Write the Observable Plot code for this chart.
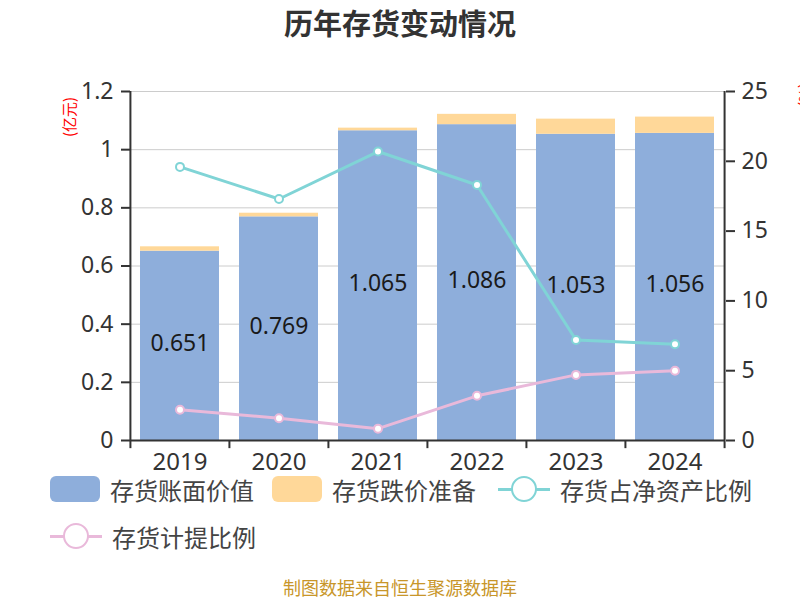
<!DOCTYPE html>
<html><head><meta charset="utf-8">
<script src="https://cdn.jsdelivr.net/npm/d3@7"></script>
<script src="https://cdn.jsdelivr.net/npm/@observablehq/plot@0.6"></script>
<style>
html,body{margin:0;padding:0;background:#fff;}
#wrap{position:relative;width:800px;height:600px;overflow:hidden;font-family:"Noto Sans CJK SC","Noto Sans",sans-serif;}
#title{position:absolute;left:0;top:0;width:800px;height:44px;line-height:44px;text-align:center;font-size:29px;font-weight:bold;color:#333;}
#chart{position:absolute;left:0;top:0;}
.lg{position:absolute;display:flex;align-items:center;height:30px;font-size:24px;color:#444;white-space:nowrap;}
.sw{width:50px;height:26px;border-radius:6px;margin-right:10px;}
.ln{position:relative;width:52px;height:30px;margin-right:10px;}
.ln .bar{position:absolute;left:0;top:14px;width:52px;height:2.5px;}
.ln .c{position:absolute;left:13px;top:2px;width:22px;height:22px;border-radius:50%;background:#fff;border:2px solid;}
#foot{position:absolute;left:0;top:575px;width:800px;text-align:center;font-size:18px;line-height:24px;color:#c8962a;}
.ylab{position:absolute;color:#ff0000;font-size:15px;transform:translate(-50%,-50%) rotate(-90deg);white-space:nowrap;}
</style></head>
<body>
<div id="wrap">
  <div id="title">历年存货变动情况</div>
  <div id="chart"></div>
  <div class="ylab" style="left:68px;top:117px;">(亿元)</div>
  <div class="ylab" style="left:803px;top:95px;">(%)</div>
  <div id="legend"></div>
  <div id="foot">制图数据来自恒生聚源数据库</div>
</div>
<script>
const years = ["2019","2020","2021","2022","2023","2024"];
const bookValue = [0.651, 0.769, 1.065, 1.086, 1.053, 1.056];
const reserve = [0.015, 0.0125, 0.009, 0.0355, 0.052, 0.056];
const shareOfNetAssets = [19.6, 17.3, 20.7, 18.3, 7.2, 6.9];
const provisionRatio = [2.2, 1.6, 0.85, 3.2, 4.7, 5.0];
const leftTicks = [0, 0.2, 0.4, 0.6, 0.8, 1.0, 1.2];
const rightTicks = [0, 5, 10, 15, 20, 25];
const seriesNames = ["存货账面价值", "存货跌价准备", "存货占净资产比例", "存货计提比例"];

const colors = {book: "#8eaedb", reserve: "#ffd899", teal: "#80d4d6", pink: "#e9b9da"};
const W = 800, H = 480, ML = 130, MR = 75, MT = 91, MB = 40;
const k = 1.2 / 25;
const step = (W - ML - MR) / years.length;

const data = years.map((y, i) => ({
  year: y, book: bookValue[i], reserve: reserve[i],
  teal: shareOfNetAssets[i], pink: provisionRatio[i]
}));

const fmtLeft = d => String(+d.toFixed(1));
const numFont = "Noto Sans, Noto Sans CJK SC, sans-serif";
const axisColor = "#333";

const plot = Plot.plot({
  width: W, height: H,
  marginLeft: ML, marginRight: MR, marginTop: MT, marginBottom: MB,
  style: {fontFamily: numFont, background: "transparent", overflow: "visible"},
  x: {type: "band", domain: years, paddingInner: 0.2, paddingOuter: 0.1, axis: null},
  y: {domain: [0, 1.2], axis: null},
  marks: [
    Plot.gridY(leftTicks, {stroke: "#cccccc", strokeOpacity: 1, strokeWidth: 1}),
    Plot.barY(data, {x: "year", y1: 0, y2: "book", fill: colors.book}),
    Plot.barY(data, {x: "year", y1: "book", y2: d => d.book + d.reserve, fill: colors.reserve}),
    Plot.text(data, {x: "year", y: d => d.book / 2, dy: -2, text: d => d.book.toFixed(3), fontSize: 23, fill: "#1a1a1a"}),
    Plot.line(data, {x: "year", y: d => d.teal * k, stroke: colors.teal, strokeWidth: 3}),
    Plot.dot(data, {x: "year", y: d => d.teal * k, r: 4, fill: "#fff", stroke: colors.teal, strokeWidth: 2}),
    Plot.line(data, {x: "year", y: d => d.pink * k, stroke: colors.pink, strokeWidth: 3}),
    Plot.dot(data, {x: "year", y: d => d.pink * k, r: 4, fill: "#fff", stroke: colors.pink, strokeWidth: 2}),
    // axis lines
    Plot.ruleY([0], {stroke: axisColor, strokeWidth: 2}),
    Plot.ruleX([years[0]], {x: d => d, y1: 0, y2: 1.2, dx: -step / 2, stroke: axisColor, strokeWidth: 2}),
    Plot.ruleX([years[years.length - 1]], {x: d => d, y1: 0, y2: 1.2, dx: step / 2, stroke: axisColor, strokeWidth: 2}),
    // x ticks at band boundaries
    Plot.ruleX(years, {x: d => d, y1: 0, y2: -0.028, dx: -step / 2, stroke: axisColor, strokeWidth: 2}),
    Plot.ruleX([years[years.length - 1]], {x: d => d, y1: 0, y2: -0.028, dx: step / 2, stroke: axisColor, strokeWidth: 2}),
    Plot.axisX({tickSize: 0, tickPadding: 12, fontSize: 24, color: axisColor, label: null}),
    Plot.axisY(leftTicks, {anchor: "left", tickSize: 9, tickPadding: 8, tickFormat: fmtLeft, fontSize: 23, color: axisColor, strokeWidth: 2, label: null}),
    Plot.axisY(rightTicks.map(v => v * k), {anchor: "right", tickSize: 9, tickPadding: 7, tickFormat: d => String(Math.round(d / k)), fontSize: 23, color: axisColor, strokeWidth: 2, label: null})
  ]
});
document.getElementById("chart").appendChild(plot);

// legend
const legend = document.getElementById("legend");
const items = [
  {name: seriesNames[0], type: "rect", color: colors.book, left: 50, top: 474},
  {name: seriesNames[1], type: "rect", color: colors.reserve, left: 272, top: 474},
  {name: seriesNames[2], type: "line", color: colors.teal, left: 498, top: 474},
  {name: seriesNames[3], type: "line", color: colors.pink, left: 50, top: 521}
];
for (const it of items) {
  const d = document.createElement("div");
  d.className = "lg";
  d.style.left = it.left + "px";
  d.style.top = it.top + "px";
  if (it.type === "rect") {
    d.innerHTML = `<div class="sw" style="background:${it.color}"></div><span>${it.name}</span>`;
  } else {
    d.innerHTML = `<div class="ln"><div class="bar" style="background:${it.color}"></div><div class="c" style="border-color:${it.color}"></div></div><span>${it.name}</span>`;
  }
  legend.appendChild(d);
}
</script>
</body></html>
